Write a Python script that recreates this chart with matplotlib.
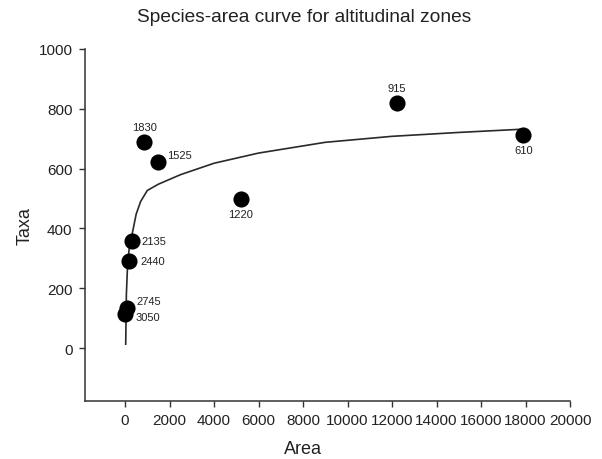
import numpy as np
import matplotlib.pyplot as plt

plt.rcParams['font.family'] = ['Liberation Sans', 'DejaVu Sans']

# altitudinal zones (m) with sampled area and number of taxa
zones = ['3050', '2745', '2440', '2135', '1830', '1525', '1220', '915', '610']
area = [20, 90, 180, 330, 867, 1498, 5199, 12225, 17903]
taxa = [115, 135, 292, 358, 689, 623, 499, 819, 712]

# fitted species-area curve, vertices as drawn
curve_x = [30, 60, 120, 200, 300, 500, 700, 1000, 1500, 2500, 4000, 6000, 9000, 12000, 15000, 17900]
curve_y = [13, 180, 290, 340, 374, 448, 490, 527, 548, 580, 618, 652, 688, 708, 721, 732]

# label offsets (points) and alignment for each zone
label_pos = {
    '3050': (7, -2.5, 'left'),
    '2745': (7, 4.5, 'left'),
    '2440': (8, 0, 'left'),
    '2135': (6.5, 0, 'left'),
    '1830': (0, 10.5, 'center'),
    '1525': (6.5, 5, 'left'),
    '1220': (0, -11, 'center'),
    '915': (0, 11, 'center'),
    '610': (0, -11, 'center'),
}

fig = plt.figure(figsize=(6.02, 4.6), dpi=100)
ax = fig.add_axes([85 / 602, 1 - 402 / 460, 485 / 602, 352 / 460])

ax.plot(curve_x, curve_y, color='#2a2a2a', lw=1.2, zorder=2)
ax.scatter(area, taxa, s=135, color='black', zorder=3, linewidths=0)

for z, x, y in zip(zones, area, taxa):
    dx, dy, ha = label_pos[z]
    ax.annotate(z, (x, y), xytext=(dx, dy), textcoords='offset points',
                ha=ha, va='center', fontsize=8, color='#222222')

ax.set_xlim(-1800, 20000)
ax.set_ylim(-177, 1000)
ax.set_xticks(np.arange(0, 20001, 2000))
ax.set_yticks(np.arange(0, 1001, 200))

for side in ['top', 'right']:
    ax.spines[side].set_visible(False)
for side in ['left', 'bottom']:
    ax.spines[side].set_color('#333333')
    ax.spines[side].set_linewidth(1.1)

ax.tick_params(axis='both', length=4, width=1.0, color='#333333',
               labelsize=11, labelcolor='#222222')
ax.tick_params(axis='x', pad=5)
ax.tick_params(axis='y', pad=5)

ax.set_xlabel('Area', fontsize=13, color='#222222', va='center')
ax.set_ylabel('Taxa', fontsize=13, color='#222222', va='center')
ax.xaxis.set_label_coords(0.449, -0.136)
ax.yaxis.set_label_coords(-0.124, 0.5)

fig.text(304 / 602, 1 - 18 / 460, 'Species-area curve for altitudinal zones',
         ha='center', va='center', fontsize=13.8, color='#222222')

fig.savefig('out.png', dpi=100, facecolor='white')
